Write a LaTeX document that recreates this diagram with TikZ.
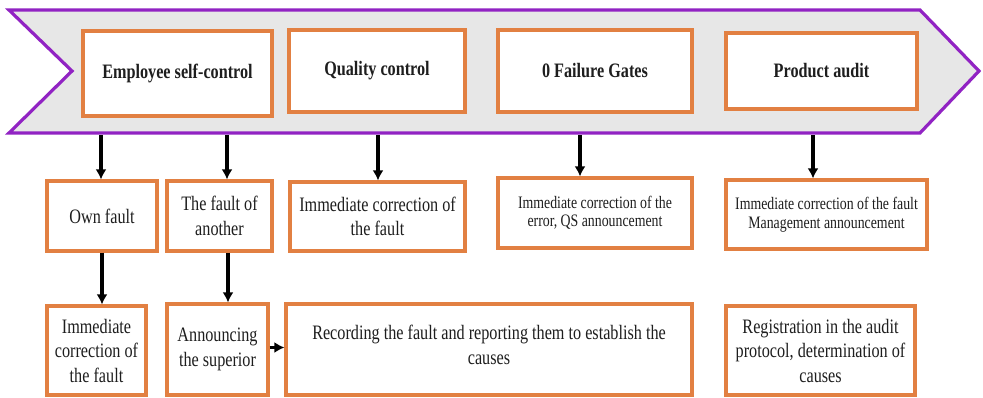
\documentclass[tikz,border=0pt]{standalone}
\usepackage{fontspec}
\setmainfont{Liberation Serif}[FakeStretch=0.79]
\usetikzlibrary{arrows.meta}
\definecolor{bannerpurple}{RGB}{145,35,195}
\definecolor{bannerfill}{RGB}{231,231,231}
\definecolor{boxorange}{RGB}{226,128,66}
\definecolor{txt}{RGB}{30,30,30}
\tikzset{
  box/.style={draw=boxorange, line width=3.2pt, fill=white, align=center,
    inner sep=2pt, text=txt, font=\fontsize{20.5}{24.5}\selectfont},
  headbox/.style={box, font=\bfseries\fontsize{20.5}{24.5}\selectfont},
  smallbox/.style={box, font=\fontsize{17.5}{18.5}\selectfont},
  arr/.style={draw=black, line width=3.4pt, -{Latex[length=10pt,width=11pt]}},
  banner/.style={draw=bannerpurple, line width=3.2pt, fill=bannerfill, line join=miter}
}
\begin{document}
\begin{tikzpicture}[x=1pt,y=-1pt]
\useasboundingbox (0,0) rectangle (983,397);
\fill[white] (0,0) rectangle (983,397);
% banner
\draw[banner] (9,10) -- (920,10) -- (979,71) -- (920,133) -- (9,133) -- (72,71) -- cycle;
% top boxes
\node[headbox, minimum width=189pt, minimum height=85pt] (A) at (177.5,73.5) {Employee self-control};
\node[headbox, minimum width=176pt, minimum height=82pt] (B) at (377,71) {Quality control};
\node[headbox, minimum width=194pt, minimum height=82pt] (C) at (595,71) {0 Failure Gates};
\node[headbox, minimum width=191pt, minimum height=76pt] (D) at (821.5,71) {Product audit};
% row 2
\node[box, minimum width=110pt, minimum height=70pt] (E) at (102,216) {Own fault};
\node[box, minimum width=105pt, minimum height=70pt] (F) at (219.5,216) {The fault of\\another};
\node[box, minimum width=175pt, minimum height=69pt] (G) at (377.5,216.5) {Immediate correction of\\the fault};
\node[smallbox, minimum width=194pt, minimum height=70pt] (H) at (595,213) {Immediate correction of the\\error, QS announcement};
\node[smallbox, minimum width=201pt, minimum height=69pt] (I) at (826.5,214.5) {Immediate correction of the fault\\Management announcement};
% row 3
\node[box, minimum width=99pt, minimum height=89pt] (J) at (96.5,350.5) {Immediate\\correction of\\the fault};
\node[box, minimum width=101pt, minimum height=91pt] (K) at (217.5,349.5) {Announcing\\the superior};
\node[box, minimum width=406pt, minimum height=91pt, text depth=9pt] (L) at (489,349.5) {Recording the fault and reporting them to establish the\\causes};
\node[box, minimum width=189pt, minimum height=89pt] (M) at (820.5,350.5) {Registration in the audit\\protocol, determination of\\causes};
% start points on the banner
\coordinate (s1) at (101,135);
\coordinate (s2) at (227,135);
\coordinate (s3) at (378,135);
\coordinate (s4) at (580,135);
\coordinate (s5) at (813,135);
\draw[arr] (s1) -- (s1 |- E.north);
\draw[arr] (s2) -- (s2 |- F.north);
\draw[arr] (s3) -- (s3 |- G.north);
\draw[arr] (s4) -- (s4 |- H.north);
\draw[arr] (s5) -- (s5 |- I.north);
\draw[arr] (E.south) -- (E.south |- J.north);
\draw[arr] ([xshift=8.5pt]F.south) -- ([xshift=8.5pt]F.south |- K.north);
\draw[arr] ([yshift=2pt]K.east) -- ([yshift=2pt]K.east -| L.west);
\end{tikzpicture}
\end{document}
